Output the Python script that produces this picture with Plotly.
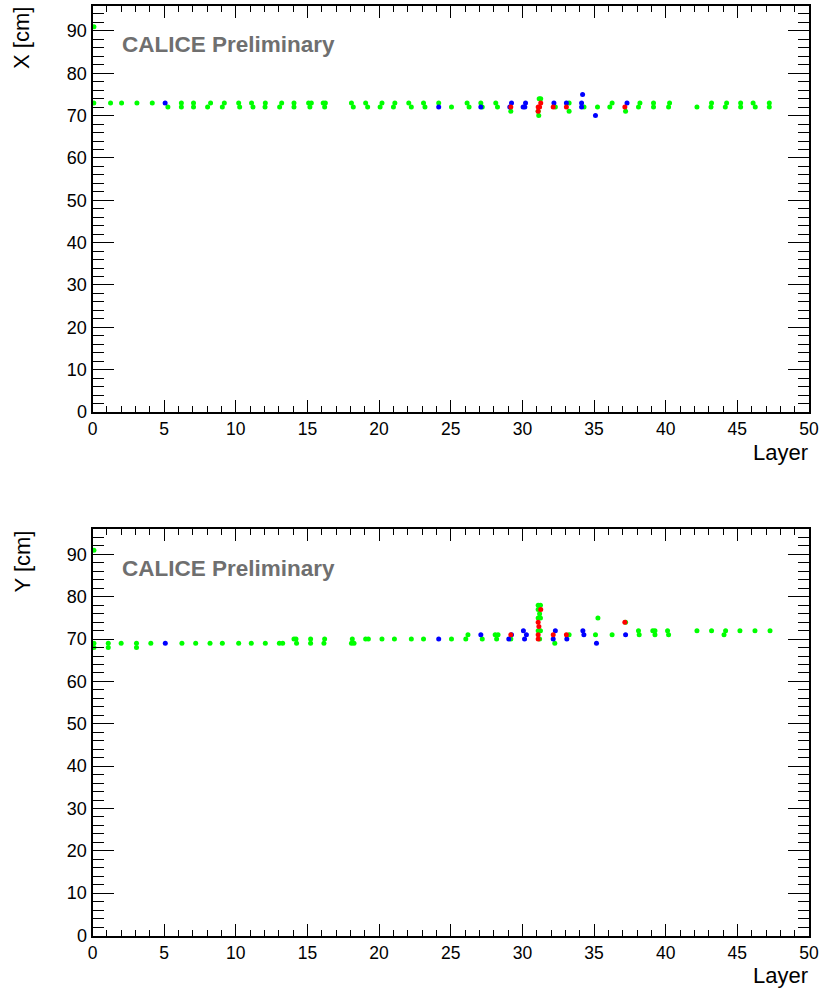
import plotly.graph_objects as go

# ---------------- data ----------------
# Top panel: X [cm] vs Layer
x_green_layer = [0.1, 0.09, 1.26, 2.03, 3.1, 4.17, 5.26,
                 6.2, 6.2, 7.05, 7.05, 8.24, 8.03, 9.2, 9.06, 10.2, 10.27, 11.1, 11.2,
                 12.06, 12.04, 13.2, 13.06, 14.06, 14.06, 15.08, 15.27, 15.17, 16.1, 16.25, 16.2,
                 18.07, 18.2, 19.06, 19.2, 20.2, 20.07, 21.1, 21.0, 22.07, 22.25, 23.1, 23.2, 24.16,
                 25.05, 26.14, 26.28, 27.1, 27.2, 28.14, 28.26, 29.19,
                 31.17, 31.28, 31.1, 31.14, 32.3, 33.26, 33.26, 34.3, 35.24, 36.26, 36.1, 37.2,
                 38.2, 38.1, 39.15, 39.15, 40.27, 40.2, 42.18, 43.2, 43.16, 44.25, 44.16,
                 45.23, 45.23, 46.1, 46.25, 47.23, 47.23]
x_green_pos = [91, 73, 73, 73, 73, 73, 72,
               73, 72, 73, 72, 73, 72, 73, 72, 73, 72, 73, 72,
               73, 72, 73, 72, 73, 72, 73, 73, 72, 73, 73, 72,
               73, 72, 73, 72, 73, 72, 73, 72, 73, 72, 73, 72, 73,
               72, 73, 72, 73, 72, 73, 72, 71,
               74, 74, 71, 70, 72, 73, 71, 72, 72, 73, 72, 71,
               73, 72, 73, 72, 73, 72, 72, 73, 72, 73, 72,
               73, 72, 73, 72, 73, 72]

x_blue_layer = [5.07, 24.16, 27.1, 29.24, 29.12, 30.22, 30.05, 30.17, 32.2, 33.07,
                34.2, 34.13, 34.13, 35.1, 37.3]
x_blue_pos = [73, 72, 72, 73, 72, 73, 72, 72, 73, 73,
              75, 73, 72, 70, 73]

x_red_layer = [29.19, 31.28, 31.1, 31.2, 31.1, 32.15, 33.07, 37.15]
x_red_pos = [72, 73, 72, 72, 71, 72, 72, 72]

# Bottom panel: Y [cm] vs Layer
y_green_layer = [0.1, 0.1, 0.1, 1.1, 1.1, 2.0, 3.07, 3.07, 4.07, 6.24, 7.2, 8.2, 9.06, 10.2,
                 11.08, 12.06, 13.04, 13.27, 14.06, 14.2, 14.24, 15.22, 15.22, 16.2, 16.15,
                 18.13, 18.07, 18.25, 19.06, 19.25, 20.2, 21.07, 22.25, 23.1,
                 25.05, 26.2, 26.05, 27.2, 28.1, 28.3, 28.2, 29.19,
                 31.1, 31.26, 31.1, 31.2, 31.1, 31.26, 31.1, 31.26, 31.2,
                 32.26, 33.26, 35.27, 35.1, 36.26, 37.2, 38.1, 38.15,
                 39.1, 39.25, 39.25, 40.13, 40.2, 42.18, 43.2, 44.18, 44.07,
                 45.18, 46.23, 47.28]
y_green_pos = [91, 69, 68, 69, 68, 69, 69, 68, 69, 69, 69, 69, 69, 69,
               69, 69, 69, 69, 70, 70, 69, 70, 69, 70, 69,
               70, 69, 69, 70, 70, 70, 70, 70, 70,
               70, 71, 70, 70, 71, 71, 70, 70,
               78, 78, 77, 76, 75, 75, 72, 72, 70,
               69, 71, 75, 71, 71, 74, 72, 71,
               72, 72, 71, 72, 71, 72, 72, 72, 71,
               72, 72, 72]

y_blue_layer = [5.08, 24.16, 27.1, 29.24, 29.05, 30.07, 30.28, 30.15, 32.3, 32.15,
                33.1, 34.22, 34.29, 35.17, 37.2]
y_blue_pos = [69, 70, 71, 71, 70, 72, 71, 70, 72, 70,
              70, 72, 71, 69, 71]

y_red_layer = [29.19, 31.28, 31.1, 31.15, 31.1, 31.1, 32.15, 33.07, 37.15]
y_red_pos = [71, 77, 74, 73, 71, 70, 71, 71, 74]

x_ticks = [0, 5, 10, 15, 20, 25, 30, 35, 40, 45, 50]
y_ticks = [0, 10, 20, 30, 40, 50, 60, 70, 80, 90]

# ---------------- figure ----------------
W, H = 819, 991
FONT = "Liberation Sans, Arial, Helvetica, sans-serif"
GREEN, BLUE, RED = "#00ff00", "#0000ff", "#ff0000"

fig = go.Figure()

def add_series(xs, ys, color, xa, ya):
    fig.add_trace(go.Scatter(x=xs, y=ys, mode="markers", xaxis=xa, yaxis=ya,
                             marker=dict(color=color, size=5, line=dict(width=0)),
                             showlegend=False, hoverinfo="skip"))

add_series(x_green_layer, x_green_pos, GREEN, "x", "y")
add_series(x_blue_layer, x_blue_pos, BLUE, "x", "y")
add_series(x_red_layer, x_red_pos, RED, "x", "y")
add_series(y_green_layer, y_green_pos, GREEN, "x2", "y2")
add_series(y_blue_layer, y_blue_pos, BLUE, "x2", "y2")
add_series(y_red_layer, y_red_pos, RED, "x2", "y2")

def px_x(p):
    return p / W

def px_y(p):
    return 1 - p / H

xdom = [px_x(92.5), px_x(809)]
top_dom = [px_y(412), px_y(5.5)]
bot_dom = [px_y(935.5), px_y(529)]

common_x = dict(range=[0, 50], tickmode="array", tickvals=x_ticks,
                ticktext=[str(v) for v in x_ticks],
                ticks="inside", ticklen=12, tickwidth=1, tickcolor="black",
                minor=dict(dtick=1, tick0=0, ticks="inside", ticklen=6, tickwidth=1, tickcolor="black"),
                showline=True, linewidth=2, linecolor="black", mirror="allticks",
                showgrid=False, zeroline=False, ticklabeloverflow="allow", automargin=False,
                tickfont=dict(family=FONT, size=17.5, color="black"), domain=xdom)
common_y = dict(range=[0, 96], tickmode="array", tickvals=y_ticks,
                ticktext=[str(v) for v in y_ticks],
                ticks="inside", ticklen=21, tickwidth=1, tickcolor="black",
                minor=dict(dtick=2, tick0=0, ticks="inside", ticklen=11, tickwidth=1, tickcolor="black"),
                showline=True, linewidth=2, linecolor="black", mirror="allticks",
                showgrid=False, zeroline=False, automargin=False,
                tickfont=dict(family=FONT, size=18, color="black"))

fig.update_layout(
    width=W, height=H, margin=dict(l=0, r=0, t=0, b=0, pad=0, autoexpand=False),
    autosize=False,
    paper_bgcolor="white", plot_bgcolor="white",
    font=dict(family=FONT, size=18, color="black"),
    xaxis=dict(common_x, anchor="y"),
    yaxis=dict(common_y, anchor="x", domain=top_dom),
    xaxis2=dict(common_x, anchor="y2"),
    yaxis2=dict(common_y, anchor="x2", domain=bot_dom),
)

annos = []
for off, ylab in [(0, "X [cm]"), (523.5, "Y [cm]")]:
    annos.append(dict(text="Layer", xref="paper", yref="paper",
                      x=px_x(810), y=px_y(452 + off), xanchor="right", yanchor="middle",
                      showarrow=False, font=dict(family=FONT, size=22, color="black")))
    annos.append(dict(text=ylab, xref="paper", yref="paper", textangle=-90,
                      x=px_x(22), y=px_y(5 + off), xanchor="center", yanchor="top",
                      showarrow=False, font=dict(family=FONT, size=22, color="black")))
    annos.append(dict(text="<b>CALICE Preliminary</b>", xref="paper", yref="paper",
                      x=px_x(120), y=px_y(44.5 + off), xanchor="left", yanchor="middle",
                      showarrow=False, font=dict(family=FONT, size=22.5, color="#6f6f6f")))
fig.update_layout(annotations=annos)

fig.write_html("out.html",
               config={"displayModeBar": False, "responsive": False},
               post_script="document.documentElement.style.margin='0';"
                           "document.body.style.margin='0';document.body.style.padding='0';"
                           "document.documentElement.style.overflow='hidden';"
                           "document.body.style.overflow='hidden';")
